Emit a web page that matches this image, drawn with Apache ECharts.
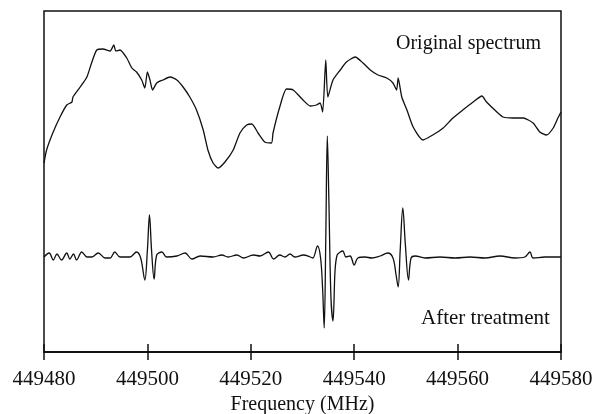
<!DOCTYPE html>
<html>
<head>
<meta charset="UTF-8">
<title>Spectrum</title>
<script src="https://cdn.jsdelivr.net/npm/echarts@6/dist/echarts.min.js"></script>
<style>
  html, body { margin: 0; padding: 0; background: #fff; }
  #chart { width: 596px; height: 414px; }
</style>
</head>
<body>
<div id="chart"></div>
<script>
// frequencies (MHz) and arbitrary intensity
var origFreq = [449480.0, 449480.5, 449481.7, 449483.1, 449484.4, 449485.4, 449485.6, 449487.0, 449488.3, 449489.2,
  449490.2, 449491.4, 449492.8, 449493.5, 449493.9, 449494.7, 449496.0, 449497.0, 449497.9, 449498.9,
  449499.5, 449500.0, 449500.5, 449501.0, 449501.8, 449503.0, 449504.4, 449505.7, 449506.9, 449508.2,
  449509.5, 449510.8, 449511.7, 449512.7, 449513.7, 449515.0, 449516.6, 449517.9, 449519.2, 449520.2,
  449521.4, 449522.7, 449524.0, 449524.3, 449525.6, 449526.9, 449528.2, 449530.1, 449531.5, 449532.7,
  449533.4, 449533.9, 449534.5, 449534.9, 449535.9, 449537.3, 449538.5, 449540.2, 449541.7, 449543.1,
  449544.6, 449546.3, 449547.5, 449548.2, 449548.5, 449549.2, 449550.2, 449551.4, 449553.3, 449555.2,
  449557.2, 449559.1, 449561.0, 449563.0, 449564.7, 449565.6, 449567.6, 449568.8, 449570.7, 449572.7,
  449574.6, 449575.9, 449577.2, 449578.5, 449579.4, 449580.0];
var origVal = [189, 202, 219, 235, 247, 250, 255, 265, 275, 289,
  302, 303, 301, 307, 301, 302, 294, 284, 280, 272,
  264, 280, 272, 262, 269, 272, 275, 272, 265, 255,
  242, 222, 202, 189, 184, 190, 202, 219, 227, 228,
  219, 210, 209, 219, 245, 263, 262, 252, 246, 247,
  249, 240, 292, 255, 272, 282, 290, 295, 289, 282,
  277, 274, 269, 262, 274, 255, 242, 225, 212, 217,
  224, 234, 242, 250, 256, 250, 240, 235, 234, 234,
  229, 220, 217, 224, 234, 240];

var treatFreq = [449480.0, 449481.0, 449481.8, 449482.5, 449483.4, 449484.4, 449485.0, 449485.7, 449486.3, 449487.3,
  449488.3, 449489.2, 449490.5, 449491.8, 449492.8, 449493.7, 449494.7, 449496.6, 449497.9, 449498.7,
  449499.5, 449500.0, 449500.4, 449500.8, 449501.3, 449501.8, 449502.8, 449503.7, 449505.7, 449507.3,
  449508.6, 449510.2, 449512.7, 449514.4, 449515.6, 449517.3, 449518.6, 449520.5, 449521.8, 449523.4,
  449524.4, 449525.6, 449526.6, 449527.6, 449528.5, 449530.2, 449531.5, 449532.0, 449532.9, 449533.5,
  449533.9, 449534.2, 449534.5, 449534.8, 449535.1, 449535.5, 449535.9, 449536.3, 449536.7, 449537.3,
  449537.8, 449538.4, 449539.2, 449540.0, 449540.7, 449542.1, 449543.4, 449545.0, 449546.5, 449547.5,
  449548.1, 449548.5, 449548.9, 449549.4, 449549.9, 449550.5, 449551.0, 449551.8, 449553.7, 449556.6,
  449559.5, 449562.4, 449565.3, 449568.2, 449571.1, 449573.0, 449574.0, 449574.6, 449576.9, 449580.0];
var treatVal = [95, 99, 92, 98, 92, 99, 93, 98, 92, 100,
  95, 95, 99, 94, 94, 100, 95, 95, 100, 94,
  72, 102, 137, 102, 73, 97, 100, 95, 96, 99,
  93, 96, 95, 97, 95, 97, 94, 97, 96, 100,
  93, 97, 95, 98, 95, 97, 95, 94, 106, 94,
  62, 24, 112, 216, 152, 55, 31, 82, 97, 100,
  101, 95, 96, 87, 94, 95, 94, 96, 99, 94,
  77, 65, 102, 144, 107, 72, 94, 96, 94, 95,
  94, 95, 94, 96, 94, 95, 100, 94, 95, 95];

var xTicks = [449480, 449500, 449520, 449540, 449560, 449580];

function pairs(xs, ys) {
  var out = [];
  for (var i = 0; i < xs.length; i++) out.push([xs[i], ys[i]]);
  return out;
}

var serif = '"Liberation Serif", "DejaVu Serif", serif';
var chart = echarts.init(document.getElementById('chart'), null, { renderer: 'canvas' });

var xBase = {
  type: 'value',
  min: xTicks[0],
  max: xTicks[xTicks.length - 1],
  interval: 20,
  position: 'bottom',
  splitLine: { show: false },
  axisLine: { show: true, onZero: false, lineStyle: { color: '#111', width: 1.5 } }
};

chart.setOption({
  backgroundColor: '#fff',
  animation: false,
  grid: {
    left: 44, right: 35, top: 11, bottom: 62,
    outerBoundsMode: 'none',
    show: true, borderColor: '#111', borderWidth: 1.5
  },
  xAxis: [
    Object.assign({}, xBase, {
      axisTick: { show: true, inside: false, length: 8, lineStyle: { color: '#111', width: 1.5 } },
      axisLabel: {
        show: true, margin: 17, color: '#111', fontFamily: serif, fontSize: 21,
        formatter: function (v) { return String(v); }
      },
      name: 'Frequency (MHz)',
      nameLocation: 'middle',
      nameGap: 41,
      nameTextStyle: { color: '#111', fontFamily: serif, fontSize: 20 }
    }),
    Object.assign({}, xBase, {
      axisTick: { show: true, inside: true, length: 8, lineStyle: { color: '#111', width: 1.5 } },
      axisLabel: { show: false }
    })
  ],
  yAxis: {
    type: 'value', min: 0, max: 341,
    axisLine: { show: false }, axisTick: { show: false },
    axisLabel: { show: false }, splitLine: { show: false }
  },
  series: [
    {
      name: 'Original spectrum', type: 'line', xAxisIndex: 0,
      data: pairs(origFreq, origVal), showSymbol: false, smooth: 0.2,
      lineStyle: { color: '#111', width: 1.3 }
    },
    {
      name: 'After treatment', type: 'line', xAxisIndex: 0,
      data: pairs(treatFreq, treatVal), showSymbol: false, smooth: 0.35,
      lineStyle: { color: '#111', width: 1.3 }
    }
  ],
  graphic: [
    { type: 'text', left: 396, top: 34,
      style: { text: 'Original spectrum', fill: '#111', font: '20px ' + serif } },
    { type: 'text', left: 421, top: 308,
      style: { text: 'After treatment', fill: '#111', font: '21px ' + serif } }
  ]
});
</script>
</body>
</html>
